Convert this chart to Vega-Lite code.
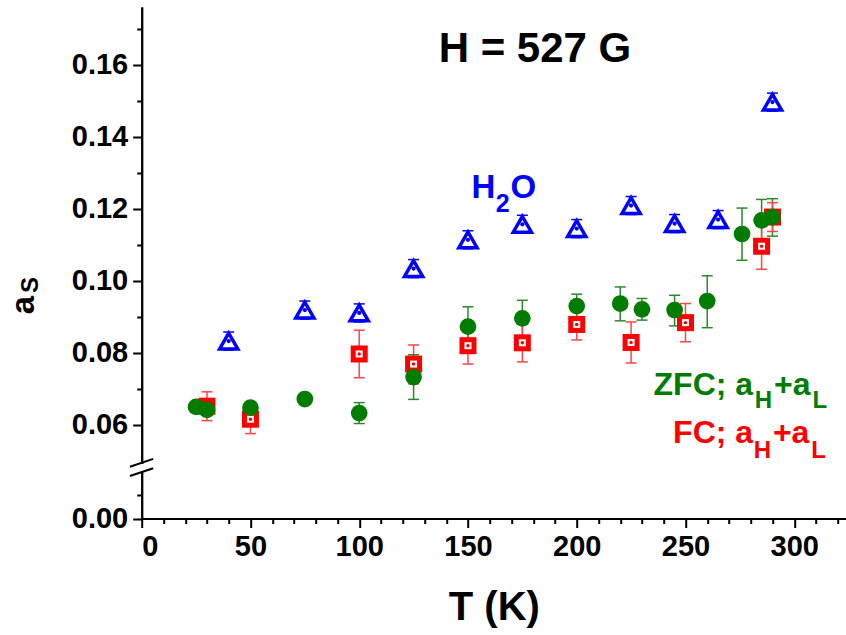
{
  "$schema": "https://vega.github.io/schema/vega-lite/v6.json",
  "width": 704.3,
  "height": 511.5,
  "autosize": {"type": "none"},
  "padding": {"left": 141.7, "top": 7, "right": 0, "bottom": 116.5},
  "background": "white",
  "config": {
    "view": {"stroke": null},
    "font": "Liberation Sans",
    "axis": {
      "domainColor": "black", "domainWidth": 2, "tickColor": "black", "tickWidth": 2,
      "labelFont": "Liberation Sans", "labelFontWeight": "bold", "labelFontSize": 29, "labelColor": "black",
      "grid": false, "titleFont": "Liberation Sans", "titleColor": "black"
    }
  },
  "datasets": {
    "pts": [
      {"s": "ZFC", "T": 25, "v": 0.0650},
      {"s": "ZFC", "T": 30, "v": 0.0642},
      {"s": "ZFC", "T": 50, "v": 0.0648},
      {"s": "ZFC", "T": 75, "v": 0.0672},
      {"s": "ZFC", "T": 100, "v": 0.0633, "lo": 0.0604, "hi": 0.0662},
      {"s": "ZFC", "T": 125, "v": 0.0733, "lo": 0.0671, "hi": 0.0795},
      {"s": "ZFC", "T": 150, "v": 0.0873, "lo": 0.0818, "hi": 0.0928},
      {"s": "ZFC", "T": 175, "v": 0.0896, "lo": 0.0846, "hi": 0.0946},
      {"s": "ZFC", "T": 200, "v": 0.0930, "lo": 0.0897, "hi": 0.0963},
      {"s": "ZFC", "T": 220, "v": 0.0937, "lo": 0.0889, "hi": 0.0983},
      {"s": "ZFC", "T": 230, "v": 0.0921, "lo": 0.0891, "hi": 0.0951},
      {"s": "ZFC", "T": 245, "v": 0.0919, "lo": 0.0875, "hi": 0.0960},
      {"s": "ZFC", "T": 260, "v": 0.0944, "lo": 0.0870, "hi": 0.1014},
      {"s": "ZFC", "T": 276, "v": 0.1130, "lo": 0.1057, "hi": 0.1202},
      {"s": "ZFC", "T": 285, "v": 0.1168, "lo": 0.1111, "hi": 0.1226},
      {"s": "ZFC", "T": 290, "v": 0.1177, "lo": 0.1124, "hi": 0.1228},
      {"s": "FC", "T": 30, "v": 0.0652, "lo": 0.0612, "hi": 0.0692},
      {"s": "FC", "T": 50, "v": 0.0616, "lo": 0.0576, "hi": 0.0656},
      {"s": "FC", "T": 100, "v": 0.0797, "lo": 0.0731, "hi": 0.0863},
      {"s": "FC", "T": 125, "v": 0.0769, "lo": 0.0714, "hi": 0.0822},
      {"s": "FC", "T": 150, "v": 0.0820, "lo": 0.0769, "hi": 0.0871},
      {"s": "FC", "T": 175, "v": 0.0828, "lo": 0.0775, "hi": 0.0882},
      {"s": "FC", "T": 200, "v": 0.0879, "lo": 0.0836, "hi": 0.0922},
      {"s": "FC", "T": 225, "v": 0.0829, "lo": 0.0772, "hi": 0.0886},
      {"s": "FC", "T": 250, "v": 0.0884, "lo": 0.0831, "hi": 0.0937},
      {"s": "FC", "T": 285, "v": 0.1096, "lo": 0.1032, "hi": 0.1160},
      {"s": "FC", "T": 290, "v": 0.1177, "lo": 0.1137, "hi": 0.1217},
      {"s": "H2O", "T": 40, "v": 0.0833, "lo": 0.0808, "hi": 0.0858},
      {"s": "H2O", "T": 75, "v": 0.0919, "lo": 0.0894, "hi": 0.0944},
      {"s": "H2O", "T": 100, "v": 0.0911, "lo": 0.0886, "hi": 0.0936},
      {"s": "H2O", "T": 125, "v": 0.1034, "lo": 0.1009, "hi": 0.1059},
      {"s": "H2O", "T": 150, "v": 0.1114, "lo": 0.1089, "hi": 0.1139},
      {"s": "H2O", "T": 175, "v": 0.1157, "lo": 0.1132, "hi": 0.1182},
      {"s": "H2O", "T": 200, "v": 0.1145, "lo": 0.1120, "hi": 0.1170},
      {"s": "H2O", "T": 225, "v": 0.1209, "lo": 0.1184, "hi": 0.1234},
      {"s": "H2O", "T": 245, "v": 0.1159, "lo": 0.1134, "hi": 0.1184},
      {"s": "H2O", "T": 265, "v": 0.1170, "lo": 0.1145, "hi": 0.1195},
      {"s": "H2O", "T": 290, "v": 0.1496, "lo": 0.1471, "hi": 0.1521}
    ],
    "labels": [
      {"g": "title", "text": "H = 527 G", "T": 180.8, "v": 0.1606},
      {"g": "h2o", "text": "H", "T": 162.6, "v": 0.1229},
      {"g": "h2oR", "text": "O", "T": 169.6, "v": 0.1229},
      {"g": "h2oSub", "text": "2", "T": 162.8, "v": 0.1192},
      {"g": "zfc", "text": "ZFC; a", "T": 281.1, "v": 0.0683},
      {"g": "zfcR", "text": "+a", "T": 290.7, "v": 0.0683},
      {"g": "zfcSub", "text": "H", "T": 281.8, "v": 0.0647},
      {"g": "zfcSub", "text": "L", "T": 308.4, "v": 0.0647},
      {"g": "fc", "text": "FC; a", "T": 281.1, "v": 0.0550},
      {"g": "fcR", "text": "+a", "T": 290.2, "v": 0.0550},
      {"g": "fcSub", "text": "H", "T": 281.4, "v": 0.0509},
      {"g": "fcSub", "text": "L", "T": 307.8, "v": 0.0509},
      {"g": "ya", "text": "a", "T": -54.0, "v": 0.0933},
      {"g": "yS", "text": "S", "T": -47.6, "v": 0.0966}
    ],
    "brk": [
      {"line": "a", "T": -5.4, "v": 0.0337},
      {"line": "a", "T": 5.3, "v": 0.0506},
      {"line": "b", "T": -5.4, "v": 0.0181},
      {"line": "b", "T": 5.3, "v": 0.0291}
    ],
    "gap": [{"T1": -2, "T2": 2, "v1": 0.0214, "v2": 0.0414}]
  },
  "layer": [
    {
      "data": {"name": "pts"},
      "transform": [{"filter": "isValid(datum.lo)"}],
      "mark": {"type": "rule", "strokeWidth": 1.5, "opacity": 1},
      "encoding": {
        "x": {"field": "T", "type": "quantitative", "scale": {"domain": [0, 323.8], "nice": false, "zero": false},
          "axis": {"orient": "bottom", "values": [10, 20, 30, 40, 60, 70, 80, 90, 110, 120, 130, 140, 160, 170, 180, 190, 210, 220, 230, 240, 260, 270, 280, 290, 310, 320], "tickSize": 5, "labels": false, "title": null}},
        "y": {"field": "lo", "type": "quantitative", "scale": {"domain": [0, 0.02, 0.05, 0.176], "range": [511.5, 464.5, 454, 0], "nice": false, "zero": false},
          "axis": {"orient": "left", "values": [0.01, 0.07, 0.09, 0.11, 0.13, 0.15, 0.17], "tickSize": 5, "labels": false, "title": null}},
        "y2": {"field": "hi"},
        "color": {"field": "s", "type": "nominal", "scale": {"domain": ["ZFC", "FC", "H2O"], "range": ["#2a8a2a", "#ff4545", "#0000ff"]}, "legend": null}
      }
    },
    {
      "data": {"name": "pts"},
      "transform": [{"filter": "isValid(datum.lo)"}, {"fold": ["lo", "hi"], "as": ["k", "ev"]}],
      "mark": {"type": "tick", "orient": "horizontal", "size": 11, "thickness": 1.5, "opacity": 1},
      "encoding": {
        "x": {"field": "T", "type": "quantitative", "axis": null},
        "y": {"field": "ev", "type": "quantitative", "axis": null},
        "color": {"field": "s", "type": "nominal", "legend": null}
      }
    },
    {
      "data": {"name": "pts"},
      "transform": [{"filter": "datum.s === 'FC'"}],
      "mark": {"type": "point", "shape": "square", "filled": true, "size": 289, "color": "#ff0000", "opacity": 1},
      "encoding": {
        "x": {"field": "T", "type": "quantitative", "axis": null},
        "y": {"field": "v", "type": "quantitative", "axis": null}
      }
    },
    {
      "data": {"name": "pts"},
      "transform": [{"filter": "datum.s === 'FC'"}],
      "mark": {"type": "point", "shape": "square", "filled": true, "size": 49, "color": "white", "opacity": 1},
      "encoding": {
        "x": {"field": "T", "type": "quantitative", "axis": null},
        "y": {"field": "v", "type": "quantitative", "axis": null}
      }
    },
    {
      "data": {"name": "pts"},
      "transform": [{"filter": "datum.s === 'FC'"}],
      "mark": {"type": "point", "shape": "circle", "filled": true, "size": 12, "color": "#ff0000", "opacity": 1},
      "encoding": {
        "x": {"field": "T", "type": "quantitative", "axis": null},
        "y": {"field": "v", "type": "quantitative", "axis": null}
      }
    },
    {
      "data": {"name": "pts"},
      "transform": [{"filter": "datum.s === 'ZFC'"}],
      "mark": {"type": "point", "shape": "circle", "filled": true, "size": 280, "color": "#007d00", "opacity": 1},
      "encoding": {
        "x": {"field": "T", "type": "quantitative",
          "axis": {"orient": "bottom", "values": [0, 50, 100, 150, 200, 250, 300], "tickSize": 9, "labelPadding": 5, "title": "T (K)", "titleFontSize": 40, "titleFontWeight": "bold", "titleY": 101, "titleBaseline": "alphabetic"}},
        "y": {"field": "v", "type": "quantitative",
          "axis": {"orient": "left", "values": [0, 0.06, 0.08, 0.1, 0.12, 0.14, 0.16], "format": ".2f", "tickSize": 9, "labelPadding": 5, "title": null}}
      }
    },
    {
      "data": {"name": "pts"},
      "transform": [{"filter": "datum.s === 'H2O'"}],
      "mark": {"type": "point", "shape": "triangle-up", "filled": true, "fill": "white", "stroke": "#0000ff", "strokeWidth": 3.5, "size": 330, "opacity": 1},
      "encoding": {
        "x": {"field": "T", "type": "quantitative", "axis": null},
        "y": {"field": "v", "type": "quantitative", "axis": null}
      }
    },
    {
      "data": {"name": "pts"},
      "transform": [{"filter": "datum.s === 'H2O'"}],
      "mark": {"type": "point", "shape": "circle", "filled": true, "size": 18, "color": "#0000ff", "opacity": 1},
      "encoding": {
        "x": {"field": "T", "type": "quantitative", "axis": null},
        "y": {"field": "v", "type": "quantitative", "axis": null}
      }
    },
    {
      "data": {"name": "gap"},
      "mark": {"type": "rect", "color": "white", "opacity": 1},
      "encoding": {
        "x": {"field": "T1", "type": "quantitative", "axis": null},
        "x2": {"field": "T2"},
        "y": {"field": "v1", "type": "quantitative", "axis": null},
        "y2": {"field": "v2"}
      }
    },
    {
      "data": {"name": "brk"},
      "mark": {"type": "line", "color": "black", "strokeWidth": 2},
      "encoding": {
        "x": {"field": "T", "type": "quantitative", "axis": null},
        "y": {"field": "v", "type": "quantitative", "axis": null},
        "detail": {"field": "line"}
      }
    },
    {
      "data": {"name": "labels"},
      "transform": [{"filter": "datum.g === 'title'"}],
      "mark": {"type": "text", "align": "center", "baseline": "alphabetic", "fontSize": 42, "fontWeight": "bold", "color": "black"},
      "encoding": {"x": {"field": "T", "type": "quantitative", "axis": null}, "y": {"field": "v", "type": "quantitative", "axis": null}, "text": {"field": "text"}}
    },
    {
      "data": {"name": "labels"},
      "transform": [{"filter": "datum.g === 'h2o'"}],
      "mark": {"type": "text", "align": "right", "baseline": "alphabetic", "fontSize": 33, "fontWeight": "bold", "color": "#0000ff"},
      "encoding": {"x": {"field": "T", "type": "quantitative", "axis": null}, "y": {"field": "v", "type": "quantitative", "axis": null}, "text": {"field": "text"}}
    },
    {
      "data": {"name": "labels"},
      "transform": [{"filter": "datum.g === 'h2oR'"}],
      "mark": {"type": "text", "align": "left", "baseline": "alphabetic", "fontSize": 33, "fontWeight": "bold", "color": "#0000ff"},
      "encoding": {"x": {"field": "T", "type": "quantitative", "axis": null}, "y": {"field": "v", "type": "quantitative", "axis": null}, "text": {"field": "text"}}
    },
    {
      "data": {"name": "labels"},
      "transform": [{"filter": "datum.g === 'h2oSub'"}],
      "mark": {"type": "text", "align": "left", "baseline": "alphabetic", "fontSize": 25, "fontWeight": "bold", "color": "#0000ff"},
      "encoding": {"x": {"field": "T", "type": "quantitative", "axis": null}, "y": {"field": "v", "type": "quantitative", "axis": null}, "text": {"field": "text"}}
    },
    {
      "data": {"name": "labels"},
      "transform": [{"filter": "datum.g === 'zfc'"}],
      "mark": {"type": "text", "align": "right", "baseline": "alphabetic", "fontSize": 32, "fontWeight": "bold", "color": "#007d00"},
      "encoding": {"x": {"field": "T", "type": "quantitative", "axis": null}, "y": {"field": "v", "type": "quantitative", "axis": null}, "text": {"field": "text"}}
    },
    {
      "data": {"name": "labels"},
      "transform": [{"filter": "datum.g === 'zfcR'"}],
      "mark": {"type": "text", "align": "left", "baseline": "alphabetic", "fontSize": 32, "fontWeight": "bold", "color": "#007d00"},
      "encoding": {"x": {"field": "T", "type": "quantitative", "axis": null}, "y": {"field": "v", "type": "quantitative", "axis": null}, "text": {"field": "text"}}
    },
    {
      "data": {"name": "labels"},
      "transform": [{"filter": "datum.g === 'zfcSub'"}],
      "mark": {"type": "text", "align": "left", "baseline": "alphabetic", "fontSize": 24, "fontWeight": "bold", "color": "#007d00"},
      "encoding": {"x": {"field": "T", "type": "quantitative", "axis": null}, "y": {"field": "v", "type": "quantitative", "axis": null}, "text": {"field": "text"}}
    },
    {
      "data": {"name": "labels"},
      "transform": [{"filter": "datum.g === 'fc'"}],
      "mark": {"type": "text", "align": "right", "baseline": "alphabetic", "fontSize": 32, "fontWeight": "bold", "color": "#ff0000"},
      "encoding": {"x": {"field": "T", "type": "quantitative", "axis": null}, "y": {"field": "v", "type": "quantitative", "axis": null}, "text": {"field": "text"}}
    },
    {
      "data": {"name": "labels"},
      "transform": [{"filter": "datum.g === 'fcR'"}],
      "mark": {"type": "text", "align": "left", "baseline": "alphabetic", "fontSize": 32, "fontWeight": "bold", "color": "#ff0000"},
      "encoding": {"x": {"field": "T", "type": "quantitative", "axis": null}, "y": {"field": "v", "type": "quantitative", "axis": null}, "text": {"field": "text"}}
    },
    {
      "data": {"name": "labels"},
      "transform": [{"filter": "datum.g === 'fcSub'"}],
      "mark": {"type": "text", "align": "left", "baseline": "alphabetic", "fontSize": 24, "fontWeight": "bold", "color": "#ff0000"},
      "encoding": {"x": {"field": "T", "type": "quantitative", "axis": null}, "y": {"field": "v", "type": "quantitative", "axis": null}, "text": {"field": "text"}}
    },
    {
      "data": {"name": "labels"},
      "transform": [{"filter": "datum.g === 'ya'"}],
      "mark": {"type": "text", "align": "center", "baseline": "middle", "angle": 270, "fontSize": 33, "fontWeight": "bold", "color": "black"},
      "encoding": {"x": {"field": "T", "type": "quantitative", "axis": null}, "y": {"field": "v", "type": "quantitative", "axis": null}, "text": {"field": "text"}}
    },
    {
      "data": {"name": "labels"},
      "transform": [{"filter": "datum.g === 'yS'"}],
      "mark": {"type": "text", "align": "left", "baseline": "alphabetic", "angle": 270, "fontSize": 24, "fontWeight": "bold", "color": "black"},
      "encoding": {"x": {"field": "T", "type": "quantitative", "axis": null}, "y": {"field": "v", "type": "quantitative", "axis": null}, "text": {"field": "text"}}
    }
  ],
  "resolve": {"axis": {"x": "independent", "y": "independent"}}
}
